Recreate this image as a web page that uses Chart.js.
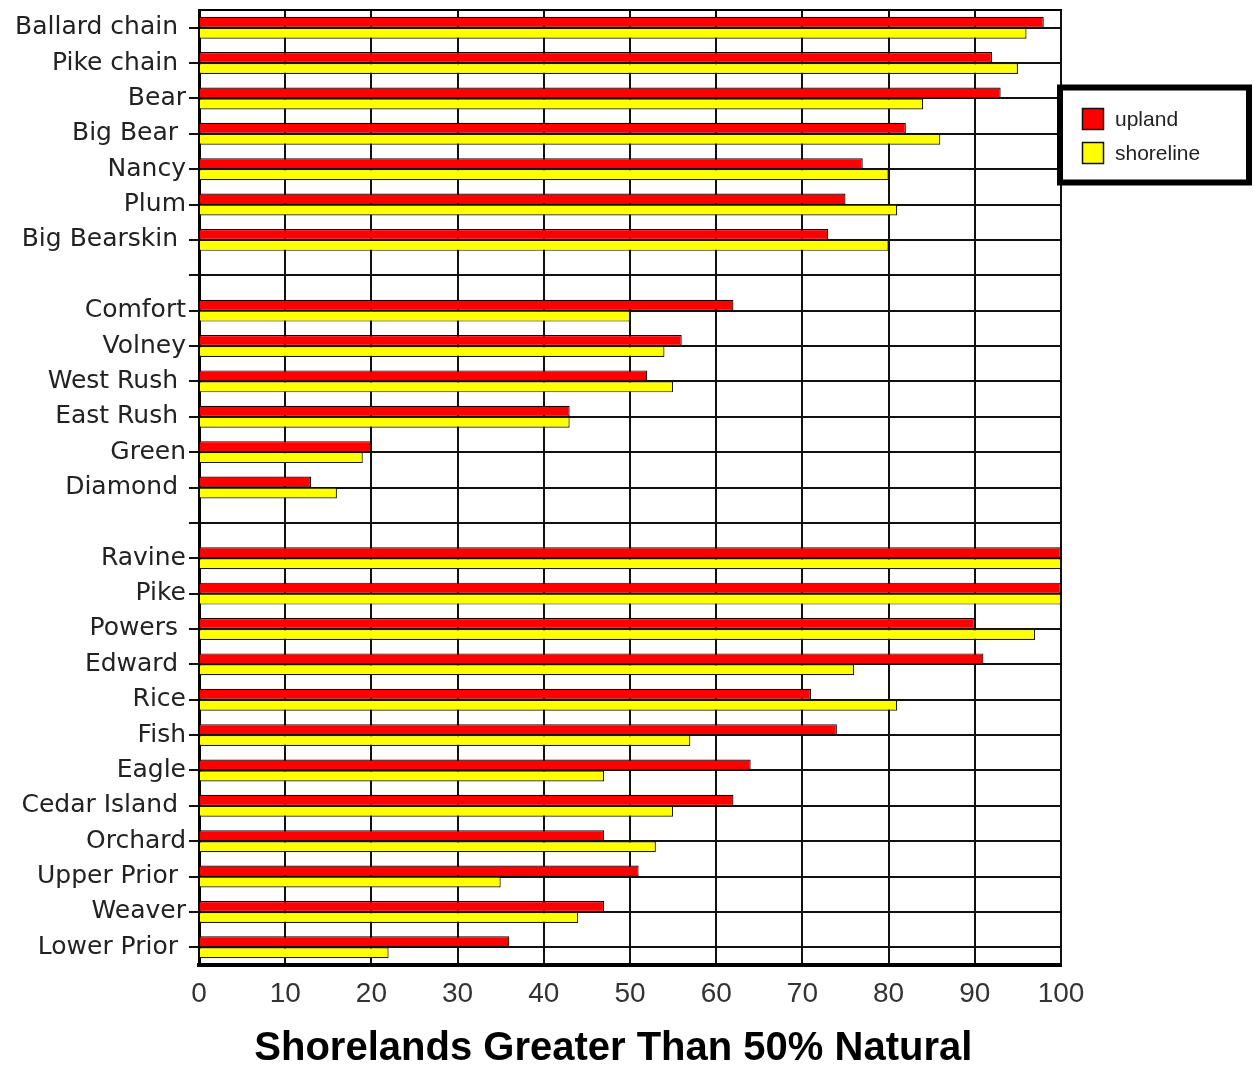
<!DOCTYPE html>
<html>
<head>
<meta charset="utf-8">
<script src="https://cdn.jsdelivr.net/npm/chart.js@4/dist/chart.umd.min.js"></script>
<style>
  html, body { margin: 0; padding: 0; background: #ffffff; }
  canvas { display: block; }
</style>
</head>
<body>
<canvas id="c" width="1254" height="1069"></canvas>
<script>
// ---- data ----
const categories = [
  "Ballard chain ", "Pike chain ", "Bear", "Big Bear ", "Nancy", "Plum", "Big Bearskin ",
  "",
  "Comfort", "Volney", "West Rush ", "East Rush ", "Green", "Diamond ",
  "",
  "Ravine", "Pike", "Powers ", "Edward ", "Rice", "Fish", "Eagle", "Cedar Island ",
  "Orchard", "Upper Prior ", "Weaver", "Lower Prior "
];
const upland = [
  98, 92, 93, 82, 77, 75, 73,
  null,
  62, 56, 52, 43, 20, 13,
  null,
  100, 100, 90, 91, 71, 74, 64, 62, 47, 51, 47, 36
];
const shoreline = [
  96, 95, 84, 86, 80, 81, 80,
  null,
  50, 54, 55, 43, 19, 16,
  null,
  100, 100, 97, 76, 81, 57, 47, 55, 53, 35, 44, 22
];
const seriesNames = ["upland", "shoreline"];
const xTitle = "Shorelands Greater Than 50% Natural";
const xMin = 0, xMax = 100, xStep = 10;

// ---- legend plugin (box overlapping the right edge of the plot) ----
const boxLegend = {
  id: 'boxLegend',
  afterDraw(chart) {
    const ctx = chart.ctx;
    const ca = chart.chartArea;
    const x0 = ca.right - 1, y0 = 87.5, w = 189, h = 95;
    ctx.save();
    ctx.fillStyle = '#ffffff';
    ctx.fillRect(x0, y0, w, h);
    ctx.lineWidth = 6;
    ctx.strokeStyle = '#000000';
    ctx.strokeRect(x0, y0, w, h);
    ctx.font = '21px "Liberation Sans", Arial, sans-serif';
    ctx.textBaseline = 'middle';
    ctx.textAlign = 'left';
    chart.data.datasets.forEach((ds, i) => {
      const cy = 119 + i * 34;
      ctx.fillStyle = ds.backgroundColor;
      ctx.fillRect(x0 + 22.5, cy - 10.5, 21, 21);
      ctx.lineWidth = 1.5;
      ctx.strokeStyle = '#111';
      ctx.strokeRect(x0 + 22.5, cy - 10.5, 21, 21);
      ctx.fillStyle = '#222';
      ctx.fillText(ds.label, x0 + 55, cy + 1);
    });
    ctx.restore();
  }
};

new Chart(document.getElementById('c'), {
  type: 'bar',
  data: {
    labels: categories,
    datasets: [
      { label: seriesNames[0], data: upland, backgroundColor: '#ff0000', borderColor: '#1a0000', borderWidth: 1.2 },
      { label: seriesNames[1], data: shoreline, backgroundColor: '#ffff00', borderColor: '#1a1a00', borderWidth: 1.2 }
    ]
  },
  options: {
    indexAxis: 'y',
    responsive: false,
    animation: false,
    devicePixelRatio: 1,
    layout: { padding: { left: 0, right: 193, top: 0, bottom: 0 } },
    datasets: { bar: { barPercentage: 1.0, categoryPercentage: 0.62 } },
    plugins: {
      legend: { display: false },
      tooltip: { enabled: false },
      title: { display: false }
    },
    scales: {
      x: {
        type: 'linear',
        position: 'bottom',
        min: xMin, max: xMax,
        afterFit(s) { s.height = 104; s.paddingLeft = 0; s.paddingRight = 0; },
        ticks: {
          stepSize: xStep,
          padding: 12,
          color: '#333',
          font: { family: '"Liberation Sans", Arial, sans-serif', size: 28 }
        },
        grid: { color: '#111', lineWidth: 2, drawTicks: false },
        border: { display: true, color: '#000', width: 4 },
        title: {
          display: true,
          text: xTitle + '   ',
          color: '#000',
          padding: { top: 0, bottom: 0 },
          font: { family: '"Liberation Sans", Arial, sans-serif', size: 40, weight: 'bold', lineHeight: 1.0 }
        }
      },
      x2: {
        type: 'linear',
        position: 'top',
        min: xMin, max: xMax,
        afterFit(s) { s.height = 10; s.paddingLeft = 0; s.paddingRight = 0; },
        ticks: { display: false },
        grid: { display: false, drawTicks: false },
        border: { display: true, color: '#000', width: 2 }
      },
      y: {
        type: 'category',
        position: 'left',
        afterFit(s) { s.width = 199; s.paddingTop = 0; s.paddingBottom = 0; },
        ticks: {
          autoSkip: false,
          padding: 3,
          color: '#222',
          font: { family: '"DejaVu Sans", Verdana, sans-serif', size: 25 }
        },
        grid: { offset: false, color: '#111', lineWidth: 2, tickLength: 10, tickColor: '#111' },
        border: { display: true, color: '#000', width: 3 }
      }
    }
  },
  plugins: [boxLegend]
});
</script>
</body>
</html>
